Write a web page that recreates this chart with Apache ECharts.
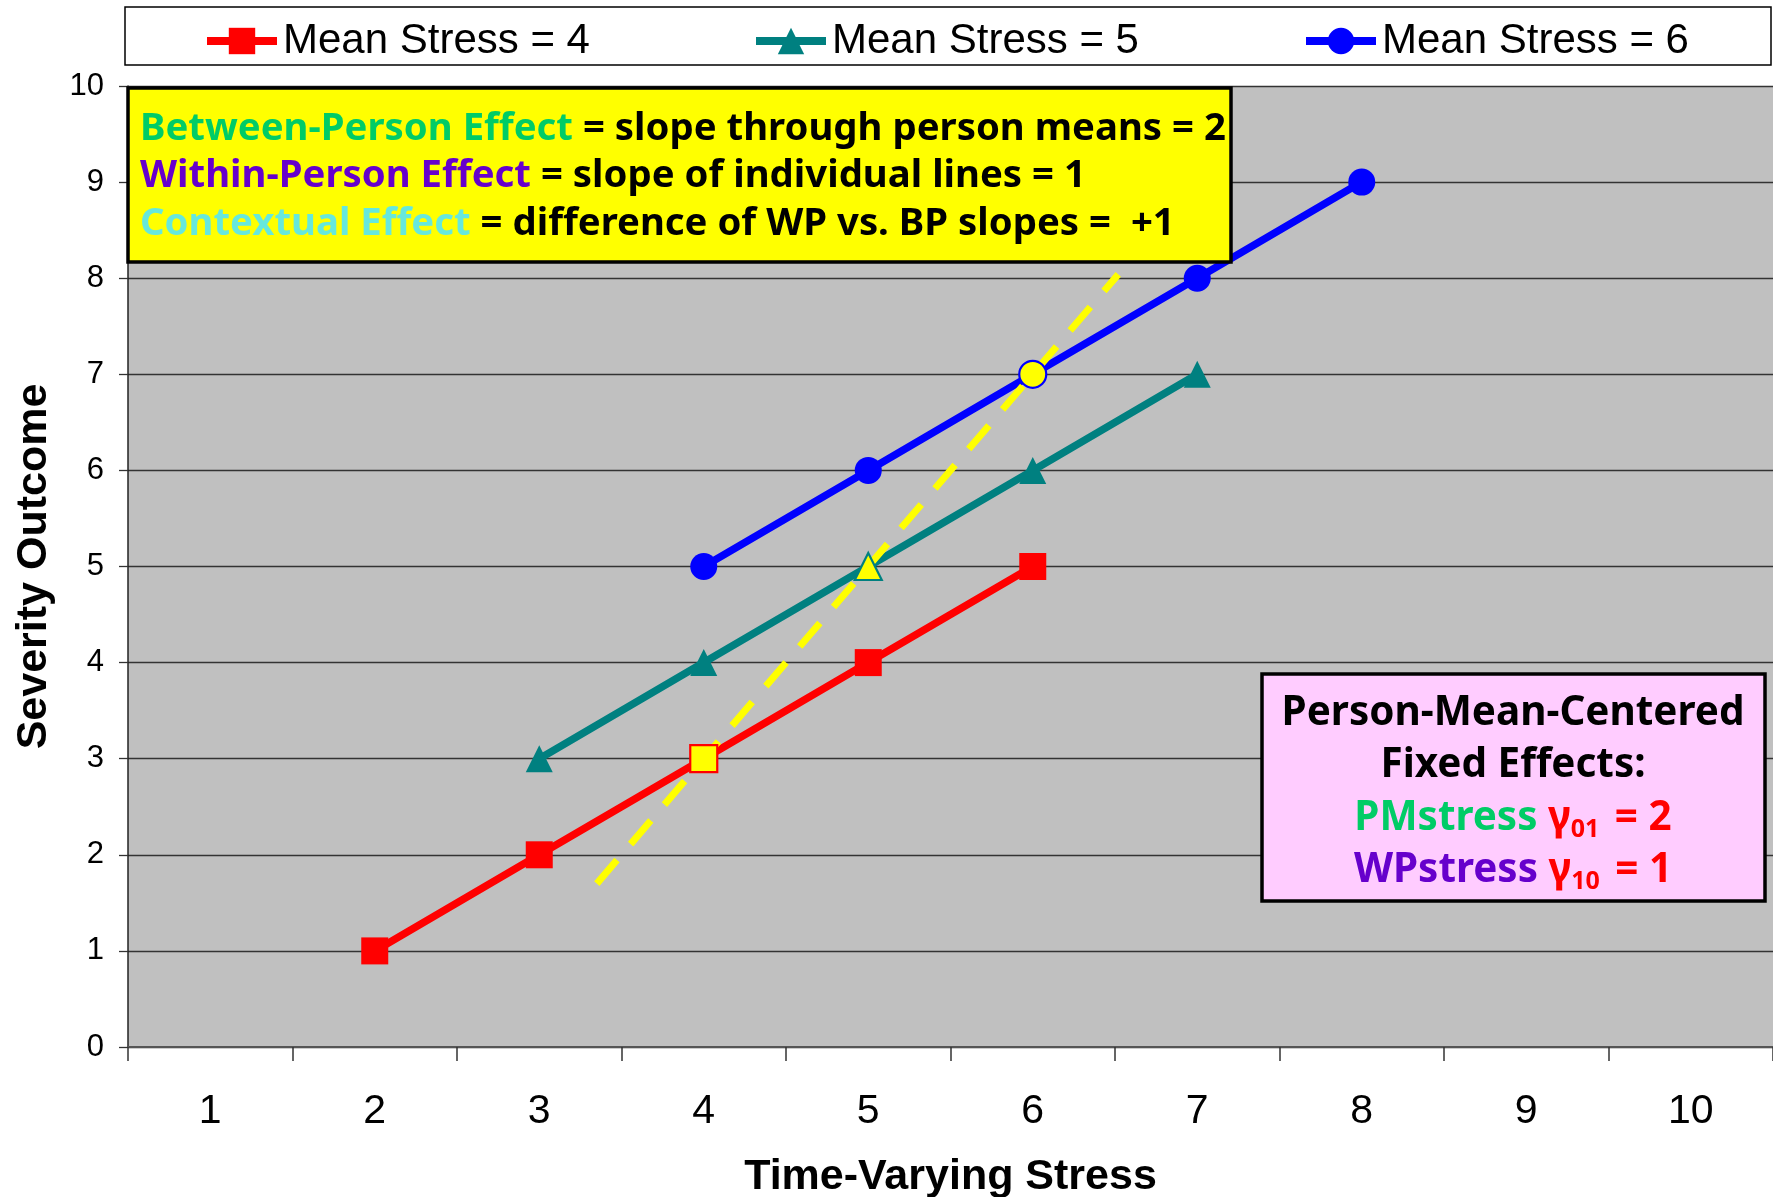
<!DOCTYPE html>
<html><head><meta charset="utf-8">
<script src="https://cdn.jsdelivr.net/npm/echarts@6/dist/echarts.min.js"></script>
<style>html,body{margin:0;padding:0;background:#fff}#c{width:1773px;height:1197px}</style>
</head><body><div id="c"></div>
<script>
// ---- data ----
const categories = ['1','2','3','4','5','6','7','8','9','10'];
const seriesNames = ['Mean Stress = 4', 'Mean Stress = 5', 'Mean Stress = 6'];
const stress4X = [2, 3, 4, 5, 6];
const stress4Y = [1, 2, 3, 4, 5];
const stress5X = [3, 4, 5, 6, 7];
const stress5Y = [3, 4, 5, 6, 7];
const stress6X = [4, 5, 6, 7, 8];
const stress6Y = [5, 6, 7, 8, 9];
const personMeanX = [4, 5, 6];
const personMeanY = [3, 5, 7];
const bpLineX = [3.35, 6.52];
const bpLineY = [1.7, 8.04];
const yMin = 0, yMax = 10, yStep = 1;

// ---- styles ----
const colors = ['#FF0000', '#008080', '#0000FF'];
const symbols = ['rect', 'triangle', 'circle'];
const AX = 'Liberation Sans, Arial, sans-serif';
const BX = 'Noto Sans, Open Sans, sans-serif';

const cv = document.createElement('canvas').getContext('2d');
function fit(text, target) { cv.font = 'bold 100px ' + BX; return 100 * target / cv.measureText(text).width; }

const pairs = (xs, ys) => xs.map((x, i) => [x, ys[i]]);
const lineData = [pairs(stress4X, stress4Y), pairs(stress5X, stress5Y), pairs(stress6X, stress6Y)];

const chart = echarts.init(document.getElementById('c'));

const series = lineData.map((d, i) => ({
  name: seriesNames[i], type: 'line', xAxisIndex: 1, data: d,
  symbol: symbols[i], symbolSize: 27, showAllSymbol: true,
  lineStyle: { color: colors[i], width: 7.5 },
  itemStyle: { color: colors[i] }, z: 2
}));
series.push({
  name: 'BP', type: 'line', xAxisIndex: 1, data: pairs(bpLineX, bpLineY),
  symbol: 'none', lineStyle: { color: '#FFFF00', width: 7, type: [31, 21], cap: 'butt' }, z: 3, silent: true
});
series.push({
  name: 'PM', type: 'scatter', xAxisIndex: 1, symbolSize: 27, z: 4,
  data: personMeanX.map((x, i) => ({
    value: [x, personMeanY[i]], symbol: symbols[i],
    itemStyle: { color: '#FFFF00', opacity: 1, borderColor: colors[i], borderWidth: 2.2 }
  }))
});

const legendLeft = [203, 752, 1302];
const legends = seriesNames.map((n, i) => ({
  data: [n], left: legendLeft[i], top: 20, padding: 0, itemGap: 0,
  itemWidth: 70, itemHeight: 33, selectedMode: false,
  lineStyle: { width: 8 },
  textStyle: { fontSize: 42, fontFamily: AX, color: '#000', padding: [0, 0, 0, 1] }
}));

const yl1 = 'Between-Person Effect = slope through person means = 2';
const ySize = fit(yl1, 1086);
const pl1 = 'Person-Mean-Centered';
const pSize = fit(pl1, 463);

const yRich = {
  g: { fill: '#00CC66', fontSize: ySize, fontWeight: 'bold', fontFamily: BX },
  p: { fill: '#6600CC', fontSize: ySize, fontWeight: 'bold', fontFamily: BX },
  c: { fill: '#66E8DC', fontSize: ySize, fontWeight: 'bold', fontFamily: BX },
  k: { fill: '#000', fontSize: ySize, fontWeight: 'bold', fontFamily: BX }
};
const pRich = {
  k: { fill: '#000', fontSize: pSize, fontWeight: 'bold', fontFamily: BX, lineHeight: 48 },
  g: { fill: '#00CC66', fontSize: pSize, fontWeight: 'bold', fontFamily: BX, lineHeight: 48 },
  p: { fill: '#6600CC', fontSize: pSize, fontWeight: 'bold', fontFamily: BX, lineHeight: 48 },
  r: { fill: '#FF0000', fontSize: pSize, fontWeight: 'bold', fontFamily: BX, lineHeight: 48 },
  s: { fill: '#FF0000', fontSize: 25, fontWeight: 'bold', fontFamily: BX, lineHeight: 14, verticalAlign: 'bottom', padding: [0, 5, 0, 0] }
};

function ytext(t, y) {
  return { type: 'text', x: 140, y: y, z: 11, style: { text: t, rich: yRich, verticalAlign: 'middle', align: 'left' } };
}
function ptext(t, y) {
  return { type: 'text', x: 1513, y: y, z: 11, style: { text: t, rich: pRich, verticalAlign: 'middle', align: 'center' } };
}

const option = {
  animation: false,
  backgroundColor: '#FFFFFF',
  grid: { left: 128, top: 86, width: 1645, height: 961, show: true, backgroundColor: '#C0C0C0', borderWidth: 0, containLabel: false, outerBoundsMode: 'none' },
  legend: legends,
  xAxis: [{
    type: 'category', data: categories, boundaryGap: true,
    axisLine: { lineStyle: { color: '#555', width: 2 } },
    axisTick: { show: true, length: 14, lineStyle: { color: '#333', width: 1.5 } },
    axisLabel: { fontSize: 41, margin: 44, color: '#000', fontFamily: AX },
    splitLine: { show: false },
    name: 'Time-Varying Stress', nameLocation: 'middle', nameGap: 109,
    nameTextStyle: { fontSize: 43, fontWeight: 'bold', color: '#000', fontFamily: AX }
  }, {
    type: 'value', min: 0.5, max: 10.5, show: false
  }],
  yAxis: {
    type: 'value', min: yMin, max: yMax, interval: yStep,
    axisLine: { show: true, lineStyle: { color: '#222', width: 1.5 } },
    axisTick: { show: true, length: 9, lineStyle: { color: '#333', width: 1.3 } },
    axisLabel: { fontSize: 31, margin: 24, color: '#000', fontFamily: AX },
    splitLine: { show: true, lineStyle: { color: '#333', width: 1.3 } },
    name: 'Severity Outcome', nameLocation: 'middle', nameGap: 72, nameRotate: 90,
    nameTextStyle: { fontSize: 43, fontWeight: 'bold', color: '#000', fontFamily: AX }
  },
  series: series,
  graphic: [
    { type: 'rect', z: -1, shape: { x: 125, y: 7, width: 1646, height: 58 }, style: { fill: '#FFFFFF', stroke: '#000', lineWidth: 1.5 } },
    { type: 'rect', z: 10, shape: { x: 128, y: 88, width: 1103, height: 174 }, style: { fill: '#FFFF00', stroke: '#000', lineWidth: 3.5 } },
    ytext('{g|Between-Person Effect}{k| = slope through person means = 2}', 129),
    ytext('{p|Within-Person Effect}{k| = slope of individual lines = 1}', 176.5),
    ytext('{c|Contextual Effect}{k| = difference of WP vs. BP slopes =  +1}', 224),
    { type: 'rect', z: 10, shape: { x: 1262, y: 674, width: 503, height: 227 }, style: { fill: '#FFCCFF', stroke: '#000', lineWidth: 3.5 } },
    ptext('{k|Person-Mean-Centered}', 713),
    ptext('{k|Fixed Effects:}', 765),
    ptext('{g|PMstress}{r| γ}{s|01}{r| = 2}', 818),
    ptext('{p|WPstress}{r| γ}{s|10}{r| = 1}', 870)
  ]
};
chart.setOption(option);
</script>
</body></html>
